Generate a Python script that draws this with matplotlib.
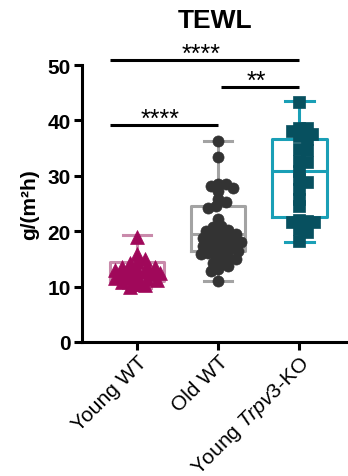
import matplotlib
matplotlib.use("Agg")
import matplotlib.pyplot as plt
import numpy as np

plt.rcParams["font.family"] = ["Liberation Sans", "DejaVu Sans"]
plt.rcParams["mathtext.fontset"] = "custom"
plt.rcParams["mathtext.rm"] = "Liberation Sans"
plt.rcParams["mathtext.it"] = "Liberation Sans:italic"

# data
groups = ["Young WT", "Old WT", "Young $\\it{Trpv3}$-KO"]
young_wt = [19.0, 15.8, 15.0, 14.5, 14.2, 13.8, 13.6, 13.5, 13.2, 13.0, 12.8,
            12.6, 12.5, 12.3, 12.1, 12.0, 11.8, 11.6, 11.5, 11.4, 11.2, 11.0,
            10.8, 10.6, 10.5, 10.4, 10.2, 10.0]
old_wt = [36.3, 33.4, 28.6, 28.5, 28.2, 27.8, 27.3, 25.8, 25.3, 24.6, 24.2,
          22.2, 21.0, 20.8, 20.3, 20.1, 19.8, 19.5, 19.2, 19.0, 18.8, 18.5,
          18.3, 18.0, 17.8, 17.6, 17.3, 17.0, 16.8, 16.5, 16.3, 16.0, 15.8,
          15.5, 15.3, 15.0, 14.6, 14.2, 13.8, 13.2, 12.8, 11.0]
trpv3_ko = [43.3, 38.6, 38.6, 38.1, 37.5, 37.2, 36.6, 34.8, 34.6, 32.7, 32.5,
            30.9, 29.4, 28.9, 27.6, 25.8, 24.5, 22.0, 21.8, 21.7, 21.6, 20.4,
            19.9, 18.2]
# box stats: low whisker, q1, median, q3, high whisker
whislo = [9.8, 11.0, 18.0]
q1 = [11.0, 16.5, 22.6]
median = [12.3, 19.5, 30.9]
q3 = [14.4, 24.5, 36.6]
whishi = [19.3, 36.3, 43.5]
# significance bars: (x start, x end, height, label)
sig_x0 = [-0.33, 1.04, -0.33]
sig_x1 = [2.0, 2.0, 1.0]
sig_y = [50.9, 46.0, 39.2]
sig_text = ["****", "**", "****"]

box_colors = ["#c98aab", "#a3a3a3", "#1a9fb6"]
dot_colors = ["#a0085a", "#333333", "#07505f"]
markers = ["^", "o", "s"]
msizes = [10, 8, 9]


def swarm(values, px_x, px_y, gap, step, max_off):
    """Place points so they don't pile up too much (pixel units)."""
    placed = []
    offs = []
    for v in values:
        k = 0
        dx = 0
        found = False
        while not found and k * step <= max_off:
            for sign in ([0] if k == 0 else [1, -1]):
                dx = sign * k * step
                if all(np.hypot(dx - px, (v - pv) * px_y) >= gap
                       for px, pv in placed):
                    found = True
                    break
            k += 1
        if not found:
            dx = 0
        placed.append((dx, v))
        offs.append(dx / px_x)
    return np.array(offs)


fig = plt.figure(figsize=(3.48, 4.77), dpi=100)
ax = fig.add_axes([82 / 348, 134 / 477, 266 / 348, 277 / 477])

for i in range(3):
    s = {"whislo": whislo[i], "q1": q1[i], "med": median[i],
         "q3": q3[i], "whishi": whishi[i], "fliers": []}
    c = box_colors[i]
    ax.bxp([s], positions=[i], widths=0.67, showfliers=False,
           boxprops=dict(color=c, linewidth=2.2),
           whiskerprops=dict(color=c, linewidth=2.2),
           capprops=dict(color=c, linewidth=2.2),
           medianprops=dict(color=c, linewidth=2.2),
           capwidths=0.35)

all_data = [young_wt, old_wt, trpv3_ko]
for i, vals in enumerate(all_data):
    offs = swarm(vals, 81.0, 5.54, 7.0, 2.5, 24)
    ax.scatter(i + offs, vals, marker=markers[i], s=msizes[i] ** 2,
               color=dot_colors[i], edgecolors=dot_colors[i], linewidths=0.5,
               zorder=3, clip_on=False)

for x0, x1, y, t in zip(sig_x0, sig_x1, sig_y, sig_text):
    ax.plot([x0, x1], [y, y], color="black", linewidth=2.2, clip_on=False,
            solid_capstyle="butt")
    ax.text((x0 + x1) / 2 - 0.05, y - 0.2, t, ha="center", va="baseline",
            fontsize=18, clip_on=False)

ax.set_xlim(-0.68, 2.6)
ax.set_ylim(0, 50)
ax.set_yticks([0, 10, 20, 30, 40, 50])
ax.set_xticks([0, 1, 2])
ax.set_xticklabels(groups, rotation=45, ha="right", rotation_mode="anchor",
                   fontsize=15)
ax.tick_params(axis="x", pad=1)
for lab in ax.get_yticklabels():
    lab.set_fontweight("bold")
    lab.set_fontsize(15)
ax.spines["top"].set_visible(False)
ax.spines["right"].set_visible(False)
ax.spines["left"].set_linewidth(2.2)
ax.spines["bottom"].set_linewidth(2.2)
ax.tick_params(axis="both", width=2.2, length=6)
ax.tick_params(axis="y", pad=2)
ax.set_ylabel("g/(m²h)", fontsize=15, fontweight="bold", labelpad=6)
fig.text(215 / 348, 1 - 21 / 477, "TEWL", fontsize=19, fontweight="bold",
         ha="center", va="center")

fig.savefig("out.png", dpi=100)
